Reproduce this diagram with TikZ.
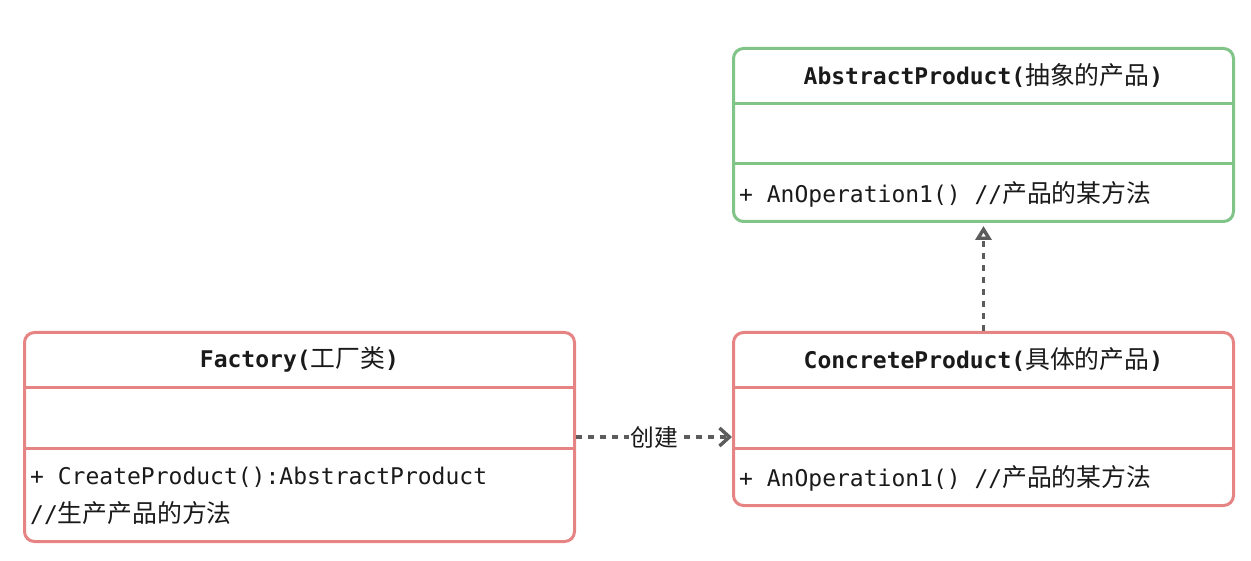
\documentclass[tikz,border=0pt]{standalone}
\usepackage{fontspec}
\setmonofont{DejaVu Sans Mono}
\newfontfamily\cjk{Noto Sans CJK SC}[Scale=1.08]
\usetikzlibrary{arrows.meta, positioning, calc}
\definecolor{prodgreen}{RGB}{128,196,136}
\definecolor{classred}{RGB}{230,132,132}
\definecolor{linkgray}{RGB}{92,92,92}
\definecolor{inkblack}{RGB}{26,26,26}
\tikzset{
  umlclass/.style={draw=#1, line width=3pt, rounded corners=10pt, fill=white, inner sep=0pt},
  classrule/.style={draw=#1, line width=3pt},
  classtitle/.style={inner sep=0pt, text=inkblack, font=\ttfamily\bfseries\fontsize{23}{28}\selectfont},
  classmember/.style={inner sep=0pt, anchor=west, align=left, text=inkblack, font=\ttfamily\fontsize{23}{36}\selectfont},
  depends/.style={draw=linkgray, line width=3.4pt, dash pattern=on 6pt off 6pt, -{Straight Barb[length=10pt, width=18pt, line join=miter]}},
  realizes/.style={draw=linkgray, line width=3.4pt, dash pattern=on 6pt off 6pt, -{Triangle[open, length=14pt, width=16pt, fill=white]}},
  linklabel/.style={fill=white, inner sep=1pt, text=inkblack, font=\cjk\fontsize{22}{26}\selectfont}
}
\begin{document}
\begin{tikzpicture}[x=1pt, y=-1pt]
  \useasboundingbox (0,0) rectangle (1251,561);

  \node[umlclass=prodgreen, minimum width=500pt, minimum height=173pt] (abstract) at (983.5,135) {};
  \draw[classrule=prodgreen] ([yshift=-57pt]abstract.north west) -- ([yshift=-57pt]abstract.north east);
  \draw[classrule=prodgreen] ([yshift=-117pt]abstract.north west) -- ([yshift=-117pt]abstract.north east);
  \node[classtitle] (abstract title) at ($(abstract.north)+(0,28.5)$) {AbstractProduct({\cjk\mdseries 抽象的产品})};
  \node[classmember] (abstract op) at ($(abstract.south west)+(7,-28.5)$) {+ AnOperation1() //{\cjk 产品的某方法}};

  \node[umlclass=classred, minimum width=500pt, minimum height=173pt] (concrete) at (983.5,419) {};
  \draw[classrule=classred] ([yshift=-57pt]concrete.north west) -- ([yshift=-57pt]concrete.north east);
  \draw[classrule=classred] ([yshift=-117pt]concrete.north west) -- ([yshift=-117pt]concrete.north east);
  \node[classtitle] (concrete title) at ($(concrete.north)+(0,28.5)$) {ConcreteProduct({\cjk\mdseries 具体的产品})};
  \node[classmember] (concrete op) at ($(concrete.south west)+(7,-28.5)$) {+ AnOperation1() //{\cjk 产品的某方法}};

  \node[umlclass=classred, minimum width=550pt, minimum height=209pt] (factory) at (299.5,437) {};
  \draw[classrule=classred] ([yshift=-57pt]factory.north west) -- ([yshift=-57pt]factory.north east);
  \draw[classrule=classred] ([yshift=-117pt]factory.north west) -- ([yshift=-117pt]factory.north east);
  \node[classtitle] (factory title) at ($(factory.north)+(0,28.5)$) {Factory({\cjk\mdseries 工厂类})};
  \node[classmember] (factory op) at ($(factory.north west)+(7,146)$) {+ CreateProduct():AbstractProduct};
  \node[classmember] (factory note) at ($(factory.north west)+(7,182)$) {//{\cjk 生产产品的方法}};

  \draw[depends] (factory.east) -- node[linklabel] (create label) {创建} (factory.east -| concrete.west);
  \draw[realizes, shorten >=3pt] (concrete.north) -- (abstract.south);
\end{tikzpicture}
\end{document}
